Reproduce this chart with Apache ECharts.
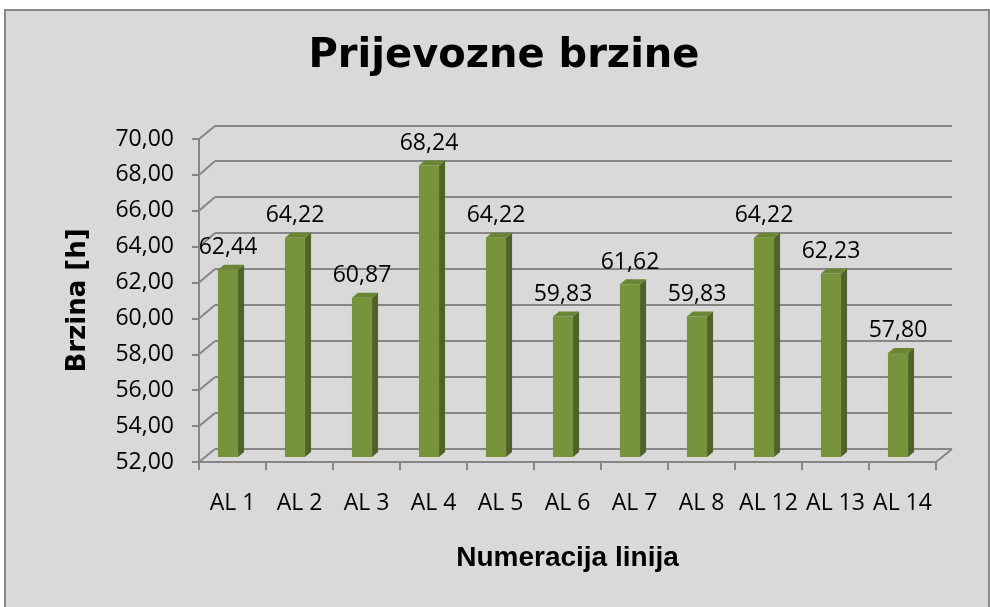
<!DOCTYPE html>
<html>
<head>
<meta charset="utf-8">
<title>Prijevozne brzine</title>
<script src="https://cdn.jsdelivr.net/npm/echarts@6/dist/echarts.min.js"></script>
<style>
  html, body { margin: 0; padding: 0; background: #ffffff; }
  #chart { width: 990px; height: 607px; }
</style>
</head>
<body>
<div id="chart"></div>
<script>
// Lines and their transport speeds
const categories = ['AL 1', 'AL 2', 'AL 3', 'AL 4', 'AL 5', 'AL 6', 'AL 7', 'AL 8', 'AL 12', 'AL 13', 'AL 14'];
const speeds = [62.44, 64.22, 60.87, 68.24, 64.22, 59.83, 61.62, 59.83, 64.22, 62.23, 57.80];
const yTicks = [52, 54, 56, 58, 60, 62, 64, 66, 68, 70];

const Y_MIN = 52, Y_MAX = 70, Y_STEP = 2;
const fmt = v => v.toFixed(2).replace('.', ',');

// Pseudo-3D depth of the back wall and of the bars
const WALL_DX = 16, WALL_DY = -13.5;
const BAR_DX = -4.5, BAR_DY = -5;
const SIDE_DX = 6, SIDE_DY = -5;

const GRID_COLOR = '#868686';
const LABEL_FONT = '"Open Sans", "Liberation Sans", sans-serif';

const chart = echarts.init(document.getElementById('chart'), null, { renderer: 'canvas' });

function renderWall(params, api) {
  const v = api.value(1);
  const bw = api.size([1, 0])[0];
  const first = api.coord([0, v]);
  const last = api.coord([categories.length - 1, v]);
  const x0 = first[0] - bw / 2;
  const x1 = last[0] + bw / 2;
  const y = first[1];
  const yb = Math.round(y + WALL_DY);
  const lineStyle = { stroke: GRID_COLOR, lineWidth: 2 };
  const children = [
    // side wall diagonal from the front axis to the back wall
    { type: 'line', shape: { x1: x0, y1: y, x2: x0 + WALL_DX, y2: yb }, style: lineStyle },
    // back wall gridline
    { type: 'line', shape: { x1: x0 + WALL_DX, y1: yb, x2: x1 + WALL_DX, y2: yb }, style: lineStyle }
  ];
  if (v === Y_MIN) {
    // right edge of the floor
    children.push({ type: 'line', shape: { x1: x1, y1: y, x2: x1 + WALL_DX, y2: yb }, style: lineStyle });
  }
  return { type: 'group', children };
}

function renderBar(params, api) {
  const i = api.value(0);
  const v = api.value(1);
  const top = api.coord([i, v]);
  const base = api.coord([i, Y_MIN]);
  const bw = api.size([1, 0])[0];
  const w = bw * 0.3;
  const cx = top[0] + BAR_DX;
  const l = cx - w / 2, r = cx + w / 2;
  const t = top[1] + BAR_DY, b = base[1] + BAR_DY;
  return {
    type: 'group',
    children: [
      { type: 'polygon', shape: { points: [[r, t], [r + SIDE_DX, t + SIDE_DY], [r + SIDE_DX, b + SIDE_DY], [r, b]] },
        style: { fill: '#4f6228' } },
      { type: 'polygon', shape: { points: [[l, t], [l + SIDE_DX, t + SIDE_DY], [r + SIDE_DX, t + SIDE_DY], [r, t]] },
        style: { fill: '#6a8634' } },
      { type: 'rect', shape: { x: l, y: t, width: w, height: b - t },
        style: { fill: '#77933c' } },
      { type: 'text', style: { x: cx, y: top[1] - 27, text: fmt(v), align: 'center', verticalAlign: 'middle',
        fill: '#000000', font: '23px ' + LABEL_FONT } }
    ]
  };
}

const option = {
  backgroundColor: 'transparent',
  animation: false,
  graphic: [
    { type: 'rect', z: -10, shape: { x: 5, y: 10, width: 984, height: 620 },
      style: { fill: '#d9d9d9', stroke: '#868686', lineWidth: 2 } },
    { type: 'text', z: 10, style: { x: 504, y: 57, text: 'Prijevozne brzine', align: 'center', verticalAlign: 'middle',
      fill: '#000000', font: 'bold 40px "DejaVu Sans", sans-serif' } }
  ],
  grid: { left: 199, right: 54, top: 139, bottom: 145, containLabel: false },
  xAxis: {
    type: 'category',
    data: categories,
    name: 'Numeracija linija',
    nameLocation: 'middle',
    nameGap: 82,
    nameTextStyle: { fontFamily: '"Liberation Sans", Arial, sans-serif', fontWeight: 'bold', fontSize: 28, color: '#000' },
    axisLine: { lineStyle: { color: GRID_COLOR, width: 2 } },
    axisTick: { show: true, length: 8, lineStyle: { color: GRID_COLOR, width: 2 } },
    axisLabel: { margin: 30, fontSize: 23, fontFamily: LABEL_FONT, color: '#000', interval: 0 },
    splitLine: { show: false }
  },
  yAxis: {
    type: 'value',
    min: Y_MIN, max: Y_MAX, interval: Y_STEP,
    name: 'Brzina [h]',
    nameLocation: 'middle',
    nameRotate: 90,
    nameGap: 108,
    nameTextStyle: { fontFamily: '"DejaVu Sans", sans-serif', fontWeight: 'bold', fontSize: 26, color: '#000' },
    axisLine: { show: true, lineStyle: { color: GRID_COLOR, width: 2 } },
    axisTick: { show: true, length: 7, lineStyle: { color: GRID_COLOR, width: 2 } },
    axisLabel: { margin: 25, fontSize: 23, fontFamily: LABEL_FONT, color: '#000', formatter: fmt },
    splitLine: { show: false }
  },
  series: [
    {
      type: 'custom',
      name: 'wall',
      z: 1,
      silent: true,
      renderItem: renderWall,
      encode: { x: 0, y: 1 },
      data: yTicks.map(v => [0, v])
    },
    {
      type: 'custom',
      name: 'Brzina',
      z: 3,
      renderItem: renderBar,
      encode: { x: 0, y: 1 },
      data: speeds.map((v, i) => [i, v])
    }
  ]
};

chart.setOption(option);
</script>
</body>
</html>
